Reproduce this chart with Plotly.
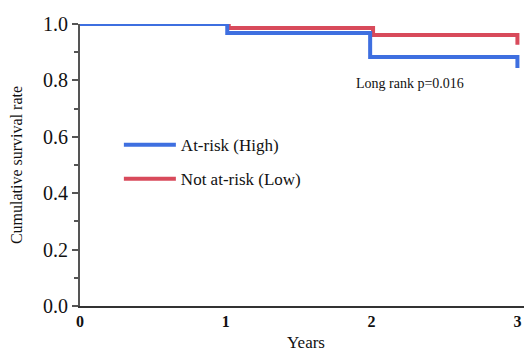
import plotly.graph_objects as go

# Kaplan-Meier step data (years, cumulative survival)
high_x = [0, 1.01, 1.99, 3.0, 3.0]
high_y = [1.0, 0.968, 0.883, 0.883, 0.844]
low_x = [0, 1.02, 2.01, 3.0, 3.0]
low_y = [1.0, 0.986, 0.961, 0.961, 0.926]

x_ticks = [0, 1, 2, 3]
y_ticks = [0.0, 0.2, 0.4, 0.6, 0.8, 1.0]
y_tick_text = ["0.0", "0.2", "0.4", "0.6", "0.8", "1.0"]

BLUE = "#3e6fe0"
RED = "#d84a5b"
FONT = "Liberation Serif"

fig = go.Figure()
fig.add_trace(go.Scatter(x=low_x, y=low_y, mode="lines", line=dict(color=RED, width=4, shape="hv"),
                         name="Not at-risk (Low)", legendrank=2, legendgroup="low", cliponaxis=False))
fig.add_trace(go.Scatter(x=high_x, y=high_y, mode="lines", line=dict(color=BLUE, width=4, shape="hv"),
                         name="At-risk (High)", legendrank=1, legendgroup="high", cliponaxis=False))

fig.add_annotation(x=2.265, y=0.79, text="Long rank p=0.016", showarrow=False,
                   font=dict(family=FONT, size=14, color="#111"))

fig.update_layout(
    width=524, height=344,
    margin=dict(l=72, r=0, t=16, b=46, autoexpand=False),
    paper_bgcolor="white", plot_bgcolor="white",
    font=dict(family=FONT, color="#111"),
    legend=dict(x=0.086, y=0.51, xanchor="left", yanchor="middle",
                font=dict(family=FONT, size=17, color="#111"),
                itemwidth=52, tracegroupgap=9, traceorder="grouped",
                bgcolor="rgba(0,0,0,0)"),
    xaxis=dict(range=[0, 3.1], tickvals=x_ticks, showgrid=False, zeroline=False,
               showline=True, linecolor="#333", linewidth=2, ticks="",
               tickfont=dict(family=FONT, size=16, color="#111", weight="bold"),
               title=dict(text="Years", font=dict(family=FONT, size=17), standoff=8)),
    yaxis=dict(range=[0, 1.0], tickvals=y_ticks, ticktext=y_tick_text, showgrid=False,
               zeroline=False, showline=True, linecolor="#555", linewidth=2,
               ticks="outside", ticklen=6, tickwidth=1.5, tickcolor="#555",
               minor=dict(dtick=0.1, ticks="outside", ticklen=4, tickwidth=1.5, tickcolor="#555"),
               tickfont=dict(family=FONT, size=20, color="#111"),
               title=dict(text="Cumulative survival rate", font=dict(family=FONT, size=16), standoff=16)),
)

fig.write_html("out.html")
